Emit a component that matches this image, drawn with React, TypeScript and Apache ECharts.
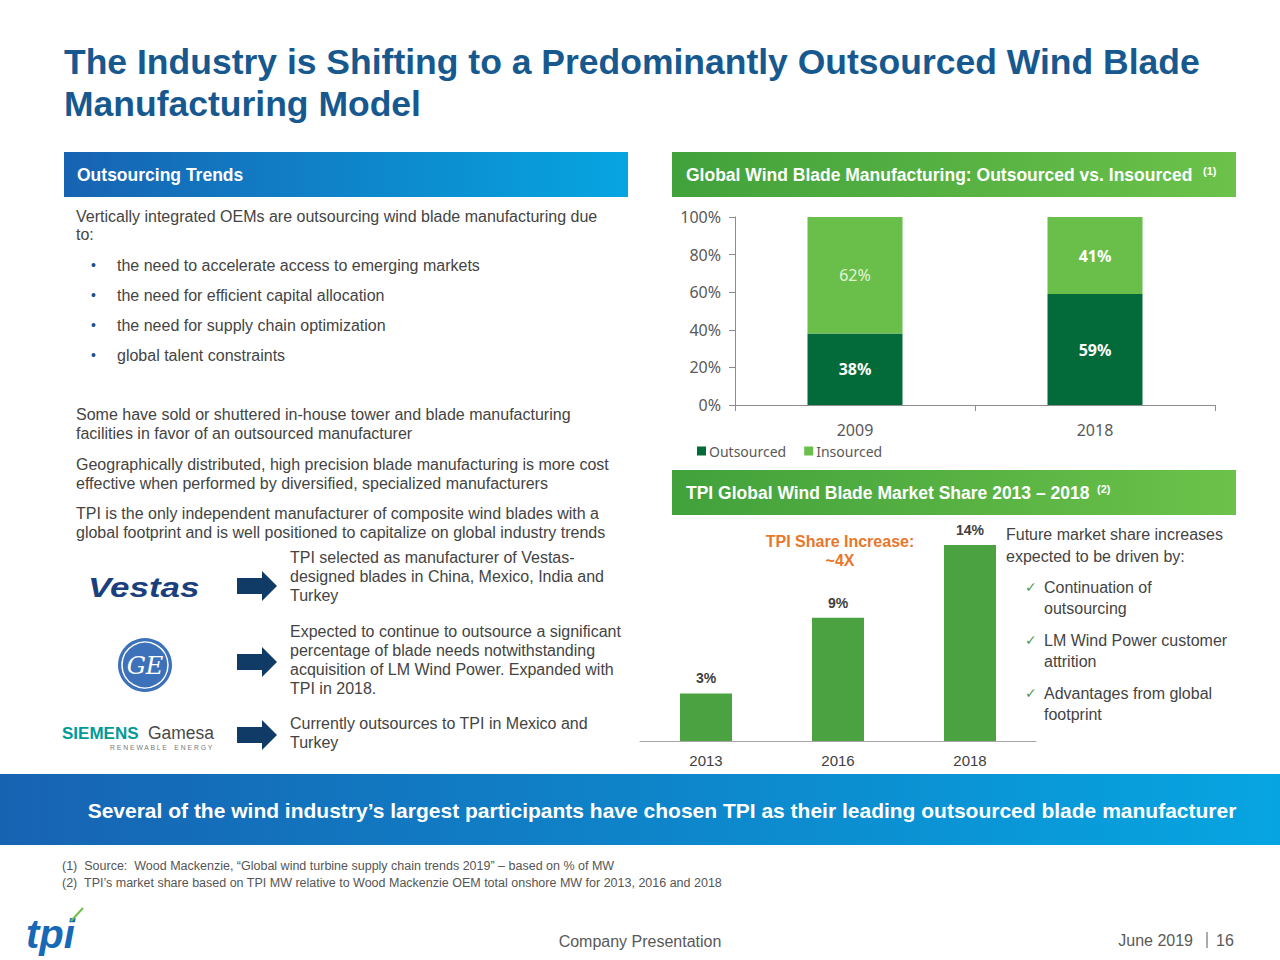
import React, { useEffect, useRef } from "react";
import * as echarts from "echarts";

// ---------- data ----------
const mfgYears = ["2009", "2018"];
const outsourcedPct = [38, 59];
const insourcedPct = [62, 41];

const shareYears = ["2013", "2016", "2018"];
const tpiShare = [3.4, 8.8, 14];
const tpiShareLabels = ["3%", "9%", "14%"];

const pctTicks = [0, 20, 40, 60, 80, 100];

const titleLines = [
  "The Industry is Shifting to a Predominantly Outsourced Wind Blade",
  "Manufacturing Model",
];

const introLines = [
  "Vertically integrated OEMs are outsourcing wind blade manufacturing due",
  "to:",
];
const reasonBullets = [
  "the need to accelerate access to emerging markets",
  "the need for efficient capital allocation",
  "the need for supply chain optimization",
  "global talent constraints",
];
const paragraphs = [
  [
    "Some have sold or shuttered in-house tower and blade manufacturing",
    "facilities in favor of an outsourced manufacturer",
  ],
  [
    "Geographically distributed, high precision blade manufacturing is more cost",
    "effective when performed by diversified, specialized manufacturers",
  ],
  [
    "TPI is the only independent manufacturer of composite wind blades with a",
    "global footprint and is well positioned to capitalize on global industry trends",
  ],
];
const customerNotes = [
  [
    "TPI selected as manufacturer of Vestas-",
    "designed blades in China, Mexico, India and",
    "Turkey",
  ],
  [
    "Expected to continue to outsource a significant",
    "percentage of blade needs notwithstanding",
    "acquisition of LM Wind Power. Expanded with",
    "TPI in 2018.",
  ],
  ["Currently outsources to TPI in Mexico and", "Turkey"],
];
const driverIntro = ["Future market share increases", "expected to be driven by:"];
const drivers = [
  ["Continuation of", "outsourcing"],
  ["LM Wind Power customer", "attrition"],
  ["Advantages from global", "footprint"],
];
const footnotes = [
  "(1)  Source:  Wood Mackenzie, \u201cGlobal wind turbine supply chain trends 2019\u201d \u2013 based on % of MW",
  "(2)  TPI\u2019s market share based on TPI MW relative to Wood Mackenzie OEM total onshore MW for 2013, 2016 and 2018",
];
const bannerText =
  "Several of the wind industry\u2019s largest participants have chosen TPI as their leading outsourced blade manufacturer";

// ---------- styles ----------
const ARIAL = "'Liberation Sans', Arial, sans-serif";
const CAL = "'Noto Sans', 'Open Sans', sans-serif";
const TXT = "#444444";
const DARK_GREEN = "#036b39";
const LIGHT_GREEN = "#6abf4b";
const BAR_GREEN = "#4aa340";

function txt(
  text: string,
  x: number,
  y: number,
  size: number,
  color: string,
  o: { weight?: string; style?: string; family?: string; align?: string; scaleX?: number } = {}
) {
  return {
    type: "text",
    x,
    y,
    scaleX: o.scaleX || 1,
    silent: true,
    style: {
      text,
      fill: color,
      fontSize: size,
      fontFamily: o.family || ARIAL,
      fontWeight: o.weight || "normal",
      fontStyle: o.style || "normal",
      textAlign: o.align || "left",
      textVerticalAlign: "middle",
      align: o.align || "left",
      verticalAlign: "middle",
    },
  };
}

function blueGrad() {
  return new echarts.graphic.LinearGradient(0, 0, 1, 0, [
    { offset: 0, color: "#1763b2" },
    { offset: 1, color: "#06a5e1" },
  ]);
}
function greenGrad() {
  return new echarts.graphic.LinearGradient(0, 0, 1, 0, [
    { offset: 0, color: "#41a13b" },
    { offset: 1, color: "#6cc24a" },
  ]);
}

function arrow(cy: number) {
  return [
    { type: "rect", silent: true, shape: { x: 237, y: cy - 8, width: 26, height: 16 }, style: { fill: "#0f3b66" } },
    {
      type: "polygon",
      silent: true,
      shape: { points: [[262, cy - 15], [277, cy], [262, cy + 15]] },
      style: { fill: "#0f3b66" },
    },
  ];
}

export default function App() {
  const ref = useRef<HTMLDivElement>(null);

  useEffect(() => {
    if (!ref.current) return;
    const chart = echarts.init(ref.current, undefined, { renderer: "svg" });

    const g: any[] = [];
    // title
    g.push(txt(titleLines[0], 64, 62, 35.5, "#17598f", { weight: "bold" }));
    g.push(txt(titleLines[1], 64, 104, 35.5, "#17598f", { weight: "bold" }));

    // header bars
    g.push({ type: "rect", silent: true, shape: { x: 64, y: 152, width: 564, height: 45 }, style: { fill: blueGrad() } });
    g.push(txt("Outsourcing Trends", 77, 175, 17.5, "#ffffff", { weight: "bold" }));
    g.push({ type: "rect", silent: true, shape: { x: 672, y: 152, width: 564, height: 45 }, style: { fill: greenGrad() } });
    g.push(txt("Global Wind Blade Manufacturing: Outsourced vs. Insourced", 686, 175, 17.5, "#ffffff", { weight: "bold" }));
    g.push(txt("(1)", 1203, 171, 11, "#ffffff", { weight: "bold" }));
    g.push({ type: "rect", silent: true, shape: { x: 672, y: 470, width: 564, height: 45 }, style: { fill: greenGrad() } });
    g.push(txt("TPI Global Wind Blade Market Share 2013 \u2013 2018", 686, 493, 17.5, "#ffffff", { weight: "bold" }));
    g.push(txt("(2)", 1097, 489, 11, "#ffffff", { weight: "bold" }));

    // left text
    g.push(txt(introLines[0], 76, 216, 16, TXT));
    g.push(txt(introLines[1], 76, 234, 16, TXT));
    reasonBullets.forEach((b, i) => {
      const y = 265 + i * 30;
      g.push(txt("\u2022", 91, y, 14, "#1b4f8a"));
      g.push(txt(b, 117, y, 16, TXT));
    });
    const paraY = [414, 464, 513];
    paragraphs.forEach((p, i) => {
      p.forEach((l, j) => g.push(txt(l, 76, paraY[i] + j * 19, 16, TXT)));
    });

    // customer notes
    const noteY = [557, 631, 723];
    customerNotes.forEach((n, i) => {
      n.forEach((l, j) => g.push(txt(l, 290, noteY[i] + j * 19, 16, TXT)));
    });
    [586, 662, 735].forEach((cy) => arrow(cy).forEach((e) => g.push(e)));

    // logos
    g.push(txt("Vestas", 88, 587, 28, "#1b3f7d", { weight: "bold", style: "italic", scaleX: 1.25 }));
    g.push({ type: "circle", silent: true, shape: { cx: 145, cy: 665, r: 27 }, style: { fill: "#3d72ba" } });
    g.push({ type: "circle", silent: true, shape: { cx: 145, cy: 665, r: 23 }, style: { fill: "none", stroke: "#ffffff", lineWidth: 1.5 } });
    g.push(txt("GE", 145, 666, 24, "#ffffff", { style: "italic", family: "'DejaVu Serif', serif", align: "center" }));
    g.push(txt("SIEMENS", 62, 733, 17, "#009a9a", { weight: "bold" }));
    g.push(txt("Gamesa", 148, 732, 19, "#4a4a4a", { scaleX: 0.92 }));
    g.push(txt("R E N E W A B L E    E N E R G Y", 110, 747, 6.8, "#777777"));

    // right text
    g.push(txt(driverIntro[0], 1006, 534, 16, TXT));
    g.push(txt(driverIntro[1], 1006, 556, 16, TXT));
    drivers.forEach((d, i) => {
      const y = 587 + i * 53;
      g.push(txt("\u2713", 1025, y, 14, "#5b9a4f", { family: "'DejaVu Sans', sans-serif" }));
      d.forEach((l, j) => g.push(txt(l, 1044, y + j * 21, 16, TXT)));
    });

    // TPI share annotation
    g.push(txt("TPI Share Increase:", 840, 541, 16, "#e8772a", { weight: "bold", align: "center" }));
    g.push(txt("~4X", 840, 560, 16, "#e8772a", { weight: "bold", align: "center" }));

    // banner
    g.push({ type: "rect", silent: true, shape: { x: 0, y: 774, width: 1280, height: 71 }, style: { fill: blueGrad() } });
    g.push(txt(bannerText, 662, 810, 21, "#ffffff", { weight: "bold", align: "center" }));

    // footnotes
    g.push(txt(footnotes[0], 62, 866, 12.5, "#555555"));
    g.push(txt(footnotes[1], 62, 883, 12.5, "#555555"));

    // footer
    g.push(txt("tpi", 26, 934, 40, "#1769b5", { weight: "bold", style: "italic" }));
    g.push({ type: "line", silent: true, shape: { x1: 71, y1: 921, x2: 83, y2: 908 }, style: { stroke: "#6cc24a", lineWidth: 2 } });
    g.push(txt("Company Presentation", 640, 941, 16, "#595959", { align: "center" }));
    g.push(txt("June 2019", 1193, 940, 16, "#595959", { align: "right" }));
    g.push({ type: "line", silent: true, shape: { x1: 1207, y1: 932, x2: 1207, y2: 948 }, style: { stroke: "#595959", lineWidth: 1 } });
    g.push(txt("16", 1216, 940, 16, "#595959"));

    chart.setOption({
      animation: false,
      backgroundColor: "#ffffff",
      graphic: { elements: g },
      legend: {
        data: ["Outsourced", "Insourced"],
        left: 692,
        top: 439,
        icon: "rect",
        itemWidth: 9,
        itemHeight: 9,
        itemGap: 18,
        textStyle: { fontSize: 14, color: "#595959", fontFamily: CAL, padding: [0, 0, 0, -2] },
      },
      grid: [
        { left: 735, top: 217, width: 480, height: 188 },
        { left: 640, top: 545, width: 396, height: 196 },
      ],
      xAxis: [
        {
          gridIndex: 0,
          type: "category",
          data: mfgYears,
          axisLine: { lineStyle: { color: "#8c8c8c" } },
          axisTick: { show: true, length: 6, lineStyle: { color: "#8c8c8c" } },
          axisLabel: { fontSize: 16, color: "#595959", fontFamily: CAL, margin: 17 },
        },
        {
          gridIndex: 1,
          type: "category",
          data: shareYears,
          axisLine: { lineStyle: { color: "#a6a6a6" } },
          axisTick: { show: false },
          axisLabel: { fontSize: 15, color: "#404040", fontFamily: ARIAL, margin: 12 },
        },
      ],
      yAxis: [
        {
          gridIndex: 0,
          type: "value",
          min: pctTicks[0],
          max: pctTicks[pctTicks.length - 1],
          interval: 20,
          axisLine: { show: true, lineStyle: { color: "#8c8c8c" } },
          axisTick: { show: true, length: 6, lineStyle: { color: "#8c8c8c" } },
          splitLine: { show: false },
          axisLabel: { formatter: "{value}%", fontSize: 16, color: "#595959", fontFamily: CAL, margin: 14 },
        },
        { gridIndex: 1, type: "value", min: 0, max: 14, show: false, splitLine: { show: false } },
      ],
      series: [
        {
          name: "Outsourced",
          type: "bar",
          stack: "mfg",
          xAxisIndex: 0,
          yAxisIndex: 0,
          barWidth: 95,
          data: outsourcedPct,
          itemStyle: { color: DARK_GREEN },
          label: {
            show: true,
            position: "inside",
            formatter: "{c}%",
            color: "#ffffff",
            fontWeight: "bold",
            fontSize: 16,
            fontFamily: CAL,
          },
        },
        {
          name: "Insourced",
          type: "bar",
          stack: "mfg",
          xAxisIndex: 0,
          yAxisIndex: 0,
          barWidth: 95,
          data: insourcedPct.map((v, i) =>
            i === 0
              ? { value: v, label: { color: "#e3f4d8", fontWeight: "normal" } }
              : { value: v }
          ),
          itemStyle: { color: LIGHT_GREEN },
          label: {
            show: true,
            position: "inside",
            formatter: "{c}%",
            color: "#ffffff",
            fontWeight: "bold",
            fontSize: 16,
            fontFamily: CAL,
          },
        },
        {
          name: "TPI share",
          type: "bar",
          xAxisIndex: 1,
          yAxisIndex: 1,
          barWidth: 52,
          data: tpiShare,
          itemStyle: { color: BAR_GREEN },
          label: {
            show: true,
            position: "top",
            distance: 8,
            formatter: (p: any) => tpiShareLabels[p.dataIndex],
            color: "#404040",
            fontWeight: "bold",
            fontSize: 14,
            fontFamily: ARIAL,
          },
        },
      ],
    });

    return () => chart.dispose();
  }, []);

  return (
    <div
      ref={ref}
      style={{ position: "fixed", left: 0, top: 0, width: 1280, height: 960, background: "#fff" }}
    />
  );
}
